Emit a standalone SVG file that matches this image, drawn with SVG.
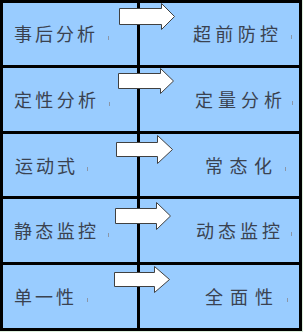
<svg xmlns="http://www.w3.org/2000/svg" width="303" height="332" viewBox="0 0 303 332">
<style>
.cell{fill:#99ccff;stroke:#000;stroke-width:3}
.lbl{font-family:"Noto Sans CJK SC","Noto Sans",sans-serif;font-size:18px;fill:#3a4250}
.tick{stroke:#8a96a8;stroke-width:1}
.arr{fill:#fff;stroke:#404040;stroke-width:1;stroke-linejoin:miter}
</style>
<rect x="0" y="0" width="303" height="332" fill="#dcefdc"/>
<rect x="1.5" y="1.5" width="299" height="328" fill="#99ccff" stroke="#000" stroke-width="3"/>
<g id="row1">
  <g id="n1l"><rect class="cell" x="1.5" y="1.5" width="137" height="65"/><text class="lbl" x="14" y="41" textLength="81" lengthAdjust="spacing">事后分析</text><line class="tick" x1="108.5" y1="36" x2="108.5" y2="40"/></g>
  <g id="n1r"><rect class="cell" x="138.5" y="1.5" width="162" height="65"/><text class="lbl" x="193" y="41" textLength="85" lengthAdjust="spacing">超前防控</text><line class="tick" x1="291.5" y1="35" x2="291.5" y2="39"/></g>
</g>
<g id="row2">
  <g id="n2l"><rect class="cell" x="1.5" y="66.5" width="137" height="66"/><text class="lbl" x="14" y="107" textLength="82" lengthAdjust="spacing">定性分析</text><line class="tick" x1="109.5" y1="102" x2="109.5" y2="106"/></g>
  <g id="n2r"><rect class="cell" x="138.5" y="66.5" width="162" height="66"/><text class="lbl" x="195" y="107" textLength="87" lengthAdjust="spacing">定量分析</text><line class="tick" x1="292.5" y1="101" x2="292.5" y2="105"/></g>
</g>
<g id="row3">
  <g id="n3l"><rect class="cell" x="1.5" y="132.5" width="137" height="65"/><text class="lbl" x="15" y="173" textLength="60" lengthAdjust="spacing">运动式</text><line class="tick" x1="87.5" y1="167" x2="87.5" y2="171"/></g>
  <g id="n3r"><rect class="cell" x="138.5" y="132.5" width="162" height="65"/><text class="lbl" x="205" y="173" textLength="67" lengthAdjust="spacing">常态化</text><line class="tick" x1="285.5" y1="167" x2="285.5" y2="171"/></g>
</g>
<g id="row4">
  <g id="n4l"><rect class="cell" x="1.5" y="197.5" width="137" height="66"/><text class="lbl" x="14" y="238" textLength="82" lengthAdjust="spacing">静态监控</text><line class="tick" x1="108.5" y1="233" x2="108.5" y2="237"/></g>
  <g id="n4r"><rect class="cell" x="138.5" y="197.5" width="162" height="66"/><text class="lbl" x="196" y="238" textLength="84" lengthAdjust="spacing">动态监控</text><line class="tick" x1="291.5" y1="232" x2="291.5" y2="236"/></g>
</g>
<g id="row5">
  <g id="n5l"><rect class="cell" x="1.5" y="263.5" width="137" height="66"/><text class="lbl" x="14" y="304" textLength="60" lengthAdjust="spacing">单一性</text><line class="tick" x1="87.5" y1="298" x2="87.5" y2="302"/></g>
  <g id="n5r"><rect class="cell" x="138.5" y="263.5" width="162" height="66"/><text class="lbl" x="205" y="304" textLength="68" lengthAdjust="spacing">全面性</text><line class="tick" x1="287.5" y1="298" x2="287.5" y2="302"/></g>
</g>
<g id="connectors">
  <polygon class="arr" points="119.5,8.5 161.5,8.5 161.5,3.5 174.5,16.5 161.5,29.5 161.5,24.5 119.5,24.5"/>
  <polygon class="arr" points="118.5,73.5 160.5,73.5 160.5,68.5 173.5,81 160.5,93.5 160.5,88.5 118.5,88.5"/>
  <polygon class="arr" points="116.5,142.5 157.5,142.5 157.5,135.5 172.5,149.5 157.5,163.5 157.5,156.5 116.5,156.5"/>
  <polygon class="arr" points="115.5,208.5 156.5,208.5 156.5,202.5 170.5,216 156.5,229.5 156.5,223.5 115.5,223.5"/>
  <polygon class="arr" points="114.5,272.5 154.5,272.5 154.5,266.5 169.5,279.5 154.5,292.5 154.5,286.5 114.5,286.5"/>
</g>
</svg>
